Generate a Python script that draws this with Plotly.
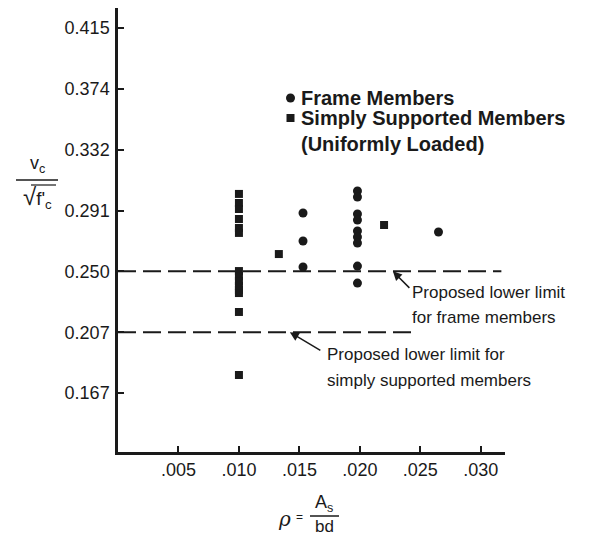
import plotly.graph_objects as go

# ---------------- data ----------------
frame_rho = [0.0153, 0.0153, 0.0153,
             0.0198, 0.0198, 0.0198, 0.0198, 0.0198, 0.0198, 0.0198, 0.0198, 0.0198,
             0.0265]
frame_vc = [0.2888, 0.2697, 0.2520,
            0.3038, 0.2997, 0.2881, 0.2840, 0.2765, 0.2724, 0.2683, 0.2526, 0.2410,
            0.2758]

simple_rho = [0.0100] * 14 + [0.0133, 0.0220]
simple_vc = [0.3018, 0.2956, 0.2915, 0.2847, 0.2786, 0.2752,
             0.2492, 0.2458, 0.2424, 0.2390, 0.2363, 0.2342,
             0.2213, 0.1783,
             0.2608, 0.2806]

frame_limit = 0.249      # labelled 0.250
frame_limit_rho = [0.0, 0.0317]
simple_limit = 0.2075    # labelled 0.207
simple_limit_rho = [0.0, 0.0245]

x_tick_vals = [0.005, 0.010, 0.015, 0.020, 0.025, 0.030]
x_tick_labels = [".005", ".010", ".015", ".020", ".025", ".030"]
y_tick_vals = [0.166, 0.2075, 0.249, 0.2905, 0.332, 0.3735, 0.415]
y_tick_labels = ["0.167", "0.207", "0.250", "0.291", "0.332", "0.374", "0.415"]

# ---------------- layout helpers (page pixel coordinates) ----------------
OFF = 8                          # default body margin of the html page
PW, PH = 607, 536                # page size
L, R, T, B = 118, 505, 8, 452    # plot area on the page
W, H = PW - OFF, PH - OFF        # figure size


def px(xp):
    return (xp - L) / (R - L)


def py(yp):
    return (B - yp) / (B - T)


FONT = "Liberation Sans, Arial, sans-serif"
INK = "#1a1a1a"

fig = go.Figure()

fig.add_trace(go.Scatter(x=frame_limit_rho, y=[frame_limit] * 2, mode="lines",
                         line=dict(color=INK, width=2, dash="18px,7px"),
                         showlegend=False, hoverinfo="skip"))
fig.add_trace(go.Scatter(x=simple_limit_rho, y=[simple_limit] * 2, mode="lines",
                         line=dict(color=INK, width=2, dash="18px,7px"),
                         showlegend=False, hoverinfo="skip"))
fig.add_trace(go.Scatter(x=simple_rho, y=simple_vc, mode="markers",
                         marker=dict(symbol="square", size=8, color=INK),
                         name="Simply Supported Members", showlegend=False))
fig.add_trace(go.Scatter(x=frame_rho, y=frame_vc, mode="markers",
                         marker=dict(symbol="circle", size=9, color=INK),
                         name="Frame Members", showlegend=False))

ann = []
shapes = []

# legend (manual)
shapes.append(dict(type="circle", xref="paper", yref="paper",
                   x0=px(286), x1=px(295), y0=py(102.5), y1=py(93.5),
                   fillcolor=INK, line=dict(width=0)))
shapes.append(dict(type="rect", xref="paper", yref="paper",
                   x0=px(286.5), x1=px(294.5), y0=py(122), y1=py(114),
                   fillcolor=INK, line=dict(width=0)))
for txt, yy in [("Frame Members", 98), ("Simply Supported Members", 118),
                ("(Uniformly Loaded)", 144)]:
    ann.append(dict(text="<b>%s</b>" % txt, xref="paper", yref="paper",
                    x=px(299), y=py(yy), xanchor="left", yanchor="middle",
                    showarrow=False, font=dict(family=FONT, size=20, color=INK)))

# callout texts
for txt, xx, yy in [("Proposed lower limit", 410, 292),
                    ("for frame members", 410, 317),
                    ("Proposed lower limit for", 325, 354),
                    ("simply supported members", 325, 380)]:
    ann.append(dict(text=txt, xref="paper", yref="paper", x=px(xx), y=py(yy),
                    xanchor="left", yanchor="middle", showarrow=False,
                    font=dict(family=FONT, size=17, color=INK)))

# arrows
ann.append(dict(text="", x=0.02273, y=frame_limit, xref="x", yref="y",
                showarrow=True, ax=18, ay=18, arrowhead=2, arrowsize=1.2,
                arrowwidth=1.5, arrowcolor=INK))
ann.append(dict(text="", x=0.01421, y=simple_limit, xref="x", yref="y",
                showarrow=True, ax=32, ay=19, arrowhead=2, arrowsize=1.2,
                arrowwidth=1.5, arrowcolor=INK))

# y axis title  v_c / sqrt(f'_c)
ann.append(dict(text="v<sub>c</sub>", xref="paper", yref="paper",
                x=px(37), y=py(178), xanchor="center", yanchor="bottom",
                showarrow=False, font=dict(family=FONT, size=18, color=INK)))
shapes.append(dict(type="line", xref="paper", yref="paper",
                   x0=px(16), x1=px(58), y0=py(180), y1=py(180),
                   line=dict(color=INK, width=1.5)))
ann.append(dict(text="<span style='font-size:24px'>√</span>f'<sub>c</sub>",
                xref="paper", yref="paper",
                x=px(37), y=py(181), xanchor="center", yanchor="top",
                showarrow=False, font=dict(family=FONT, size=19, color=INK)))
shapes.append(dict(type="line", xref="paper", yref="paper",
                   x0=px(31), x1=px(56), y0=py(185), y1=py(185),
                   line=dict(color=INK, width=1.2)))

# x axis title  rho = A_s / bd
ann.append(dict(text="<i>ρ</i>", xref="paper", yref="paper",
                x=px(284), y=py(519), xanchor="center", yanchor="middle",
                showarrow=False, font=dict(family="DejaVu Serif, serif", size=20, color=INK)))
ann.append(dict(text="=", xref="paper", yref="paper",
                x=px(299), y=py(517), xanchor="center", yanchor="middle",
                showarrow=False, font=dict(family=FONT, size=12, color=INK)))
ann.append(dict(text="A<sub>s</sub>", xref="paper", yref="paper",
                x=px(324), y=py(504), xanchor="center", yanchor="middle",
                showarrow=False, font=dict(family=FONT, size=18, color=INK)))
shapes.append(dict(type="line", xref="paper", yref="paper",
                   x0=px(310), x1=px(339), y0=py(516), y1=py(516),
                   line=dict(color=INK, width=1.5)))
ann.append(dict(text="bd", xref="paper", yref="paper",
                x=px(324), y=py(526), xanchor="center", yanchor="middle",
                showarrow=False, font=dict(family=FONT, size=17, color=INK)))

fig.update_layout(
    width=W, height=H,
    margin=dict(l=L - OFF, r=PW - R, t=T - OFF, b=PH - B, pad=0),
    paper_bgcolor="white", plot_bgcolor="white",
    font=dict(family=FONT, size=18, color=INK),
    annotations=ann, shapes=shapes, showlegend=False,
    xaxis=dict(range=[0, 0.032], tickvals=x_tick_vals, ticktext=x_tick_labels,
               showline=True, linecolor=INK, linewidth=2.5, ticks="inside",
               ticklen=6, tickwidth=2, tickcolor=INK, showgrid=False,
               zeroline=False, tickfont=dict(size=18)),
    yaxis=dict(range=[0.1258, 0.4286], tickvals=y_tick_vals, ticktext=y_tick_labels,
               showline=True, linecolor=INK, linewidth=2.5, ticks="inside",
               ticklen=6, tickwidth=2, tickcolor=INK, showgrid=False,
               zeroline=False, tickfont=dict(size=18), ticklabelstandoff=2),
)

fig.write_html("out.html")
